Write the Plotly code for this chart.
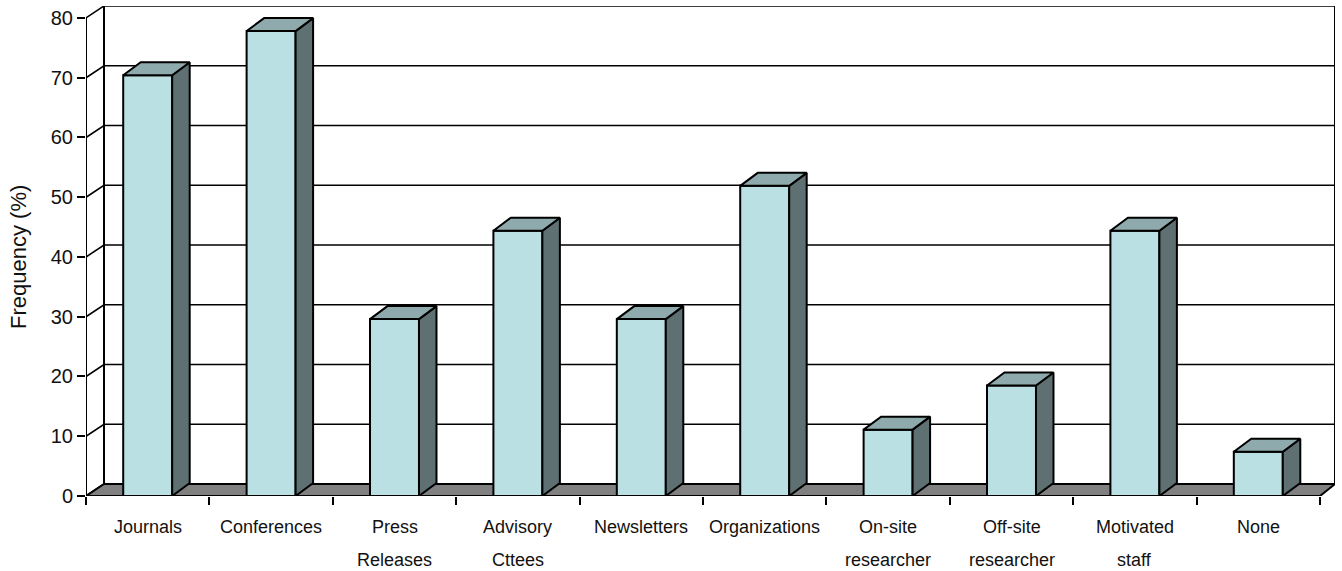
import plotly.graph_objects as go

# ---------------- data ----------------
categories = ["Journals", "Conferences", "Press Releases", "Advisory Cttees",
              "Newsletters", "Organizations", "On-site researcher",
              "Off-site researcher", "Motivated staff", "None"]
values = [70.4, 77.8, 29.6, 44.4, 29.6, 51.9, 11.1, 18.5, 44.4, 7.4]
y_ticks = [0, 10, 20, 30, 40, 50, 60, 70, 80]
y_title = "Frequency (%)"

# ---------------- style / geometry ----------------
W, H = 1342, 571
ML, MR, MT, MB = 86, 7, 6, 75
PXU_X = 123.4                     # pixels per category on the front plane
WALL_DX_L, WALL_DX_R, WALL_DY = 18, 15, 12   # depth offsets of back wall (px)
BAR_DX, BAR_DY = 17.5, 13         # depth offsets of bar faces (px)
BAR_W = 0.397

FRONT = "#BBE0E3"
TOP = "#8FAAAC"
SIDE = "#5E7072"
FLOOR = "#808080"
LINE = "black"

n = len(categories)
x_lo = -0.5
x_hi_front = n - 0.5
x_hi = x_hi_front + WALL_DX_R / PXU_X
plot_h = H - MT - MB
y_top = 82.0
PXU_Y = plot_h / y_top

ox_l = WALL_DX_L / PXU_X
ox_r = WALL_DX_R / PXU_X
oy = WALL_DY / PXU_Y
bdx = BAR_DX / PXU_X
bdy = BAR_DY / PXU_Y

fig = go.Figure()

# ---------- back wall grid + left wall diagonals ----------
gx, gy = [], []
for v in y_ticks:
    gx += [x_lo, x_lo + ox_l, x_hi_front + ox_r, None]
    gy += [v, v + oy, v + oy, None]
fig.add_trace(go.Scatter(x=gx, y=gy, mode="lines", line=dict(color=LINE, width=1.6),
                         hoverinfo="skip", showlegend=False, cliponaxis=False))

# wall verticals (front-left axis, back-left edge, back-right edge)
vx = [x_lo, x_lo, None, x_lo + ox_l, x_lo + ox_l, None, x_hi_front + ox_r, x_hi_front + ox_r]
vy = [y_ticks[0], y_ticks[-1], None, oy, y_ticks[-1] + oy, None, oy, y_ticks[-1] + oy]
fig.add_trace(go.Scatter(x=vx, y=vy, mode="lines", line=dict(color=LINE, width=2),
                         hoverinfo="skip", showlegend=False, cliponaxis=False))

# floor
fig.add_trace(go.Scatter(
    x=[x_lo, x_hi_front, x_hi_front + ox_r, x_lo + ox_l, x_lo],
    y=[0, 0, oy, oy, 0], mode="lines", fill="toself", fillcolor=FLOOR,
    line=dict(color=LINE, width=2), hoverinfo="skip", showlegend=False, cliponaxis=False))

# ---------- bars (on overlaying axes so they sit above the walls) ----------
idx = list(range(n))
tx, ty, sx, sy = [], [], [], []
for i, v in zip(idx, values):
    l, r = i - BAR_W / 2, i + BAR_W / 2
    tx += [l, l + bdx, r + bdx, r, l, None]
    ty += [v, v + bdy, v + bdy, v, v, None]
    sx += [r, r, r + bdx, r + bdx, r, None]
    sy += [0, v, v + bdy, bdy, 0, None]

fig.add_trace(go.Scatter(x=sx, y=sy, mode="lines", fill="toself", fillcolor=SIDE,
                         line=dict(color=LINE, width=2), xaxis="x2", yaxis="y2",
                         hoverinfo="skip", showlegend=False, cliponaxis=False))
fig.add_trace(go.Scatter(x=tx, y=ty, mode="lines", fill="toself", fillcolor=TOP,
                         line=dict(color=LINE, width=2), xaxis="x2", yaxis="y2",
                         hoverinfo="skip", showlegend=False, cliponaxis=False))
fig.add_trace(go.Bar(x=idx, y=values, width=BAR_W, xaxis="x2", yaxis="y2",
                     marker=dict(color=FRONT, line=dict(color=LINE, width=2)),
                     showlegend=False, hovertemplate="%{y}<extra></extra>"))

# ---------- category labels ----------
LABEL_FONT = dict(family="Liberation Sans Narrow, Arial Narrow, Liberation Sans, Arial",
                  size=18, color="#111111")
annotations = []
for i, cat in enumerate(categories):
    for j, part in enumerate(cat.split(" ")):
        annotations.append(dict(x=i, y=0, xref="x", yref="y", text=part, showarrow=False,
                                xanchor="center", yanchor="middle", yshift=-(31 + 33 * j),
                                font=LABEL_FONT))
annotations.append(dict(x=0, xref="paper", xshift=-67, y=(y_ticks[0] + y_ticks[-1]) / 2,
                        yref="y", text=y_title, textangle=-90, showarrow=False,
                        xanchor="center", yanchor="middle",
                        font=dict(family="Liberation Sans, Arial", size=22, color="#111111")))

boundaries = [k - 0.5 for k in range(n + 1)]
axis_common = dict(showgrid=False, zeroline=False, showline=False)
fig.update_layout(
    width=W, height=H,
    margin=dict(l=ML, r=MR, t=MT, b=MB),
    paper_bgcolor="white", plot_bgcolor="white",
    showlegend=False,
    annotations=annotations,
    xaxis=dict(range=[x_lo, x_hi], tickvals=boundaries, ticktext=[""] * len(boundaries),
               ticks="outside", ticklen=8, tickwidth=2, tickcolor=LINE, automargin=False,
               **axis_common),
    yaxis=dict(range=[0, y_top], tickvals=y_ticks, ticks="outside", ticklen=8, tickwidth=2,
               tickcolor=LINE, automargin=False,
               tickfont=dict(family="Liberation Sans, Arial", size=20, color="#111111"),
               **axis_common),
    xaxis2=dict(range=[x_lo, x_hi], overlaying="x", visible=False, **axis_common),
    yaxis2=dict(range=[0, y_top], overlaying="y", visible=False, **axis_common),
)

fig.write_html("out.html", config={"displayModeBar": False},
               post_script="document.body.style.margin='0';document.body.style.overflow='hidden';")
